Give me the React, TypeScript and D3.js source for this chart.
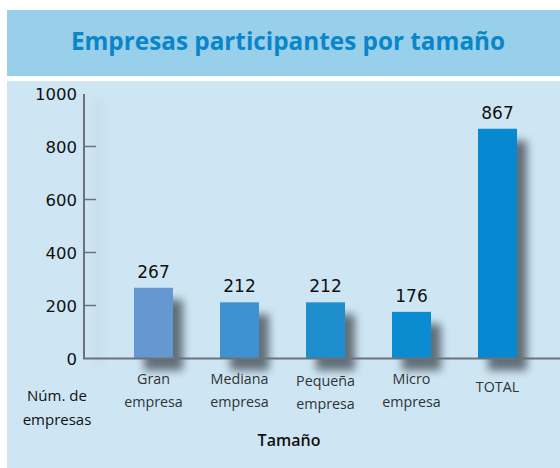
import React from "react";
import * as d3 from "d3";

const categories = ["Gran empresa", "Mediana empresa", "Pequeña empresa", "Micro empresa", "TOTAL"];
const values = [267, 212, 212, 176, 867];
const yTicks = [0, 200, 400, 600, 800, 1000];
const title = "Empresas participantes por tamaño";
const yTitle = ["Núm. de", "empresas"];
const xTitle = "Tamaño";

const barColors = ["#6598d0", "#3f92d2", "#1f8ecf", "#0b8bd0", "#0689d1"];
const W = 560;
const H = 468;
const FONT = "'Open Sans', 'Noto Sans', sans-serif";
const NUMFONT = "'DejaVu Sans', sans-serif";

export default function App() {
  const y = d3.scaleLinear().domain([0, 1000]).range([358.5, 93.5]);
  const x = d3.scalePoint<string>().domain(categories).range([153.5, 497.5]);
  const bw = 39;
  const axisX = 84;
  const axisColor = "#6b7278";
  const labelDy = [0, 0, 2, 0, 0];

  return (
    <svg width={W} height={H} style={{ position: "absolute", left: 0, top: 0, display: "block" }}>
      <defs>
        <filter id="sh" x="-50%" y="-50%" width="200%" height="200%">
          <feGaussianBlur stdDeviation="4.5" />
        </filter>
        <filter id="sh2" x="-200%" y="-10%" width="500%" height="120%">
          <feGaussianBlur stdDeviation="5" />
        </filter>
      </defs>
      <rect x={0} y={0} width={W} height={H} fill="#ffffff" />
      <rect x={7} y={10} width={W - 7} height={66} fill="#98cfeb" />
      <text x={288} y={50} textAnchor="middle" fontFamily={FONT} fontWeight={700} fontSize={24.3} fill="#0a86c8">
        {title}
      </text>
      <rect x={7} y={81} width={W - 7} height={H - 81} fill="#cee6f4" />

      {/* faint axis shadow */}
      <rect x={axisX + 12} y={100} width={4} height={265} fill="#8a9aa6" opacity={0.25} filter="url(#sh2)" />

      {/* bar shadows */}
      {categories.map((c, i) => (
        <rect
          key={"s" + c}
          x={(x(c) as number) - bw / 2 + 10}
          y={y(values[i]) + 12}
          width={bw}
          height={y(0) - y(values[i])}
          fill="#4f5a64"
          opacity={0.85}
          filter="url(#sh)"
        />
      ))}

      {/* bars */}
      {categories.map((c, i) => (
        <rect
          key={"b" + c}
          x={(x(c) as number) - bw / 2}
          y={y(values[i])}
          width={bw}
          height={y(0) - y(values[i])}
          fill={barColors[i]}
        />
      ))}

      {/* axes */}
      <line x1={axisX} x2={axisX} y1={94} y2={359} stroke={axisColor} strokeWidth={2} />
      <line x1={axisX - 1} x2={W} y1={358.5} y2={358.5} stroke={axisColor} strokeWidth={2} />
      {yTicks.map((t) => (
        <g key={"t" + t}>
          {t > 0 && t < 1000 && (
            <line x1={axisX} x2={axisX + 12} y1={y(t)} y2={y(t)} stroke={axisColor} strokeWidth={1.5} />
          )}
          <text x={77} y={y(t) + 6} textAnchor="end" fontFamily={NUMFONT} fontSize={16.5} fill="#111">
            {t}
          </text>
        </g>
      ))}

      {/* value labels */}
      {categories.map((c, i) => (
        <text
          key={"v" + c}
          x={x(c) as number}
          y={y(values[i]) - 10}
          textAnchor="middle"
          fontFamily={NUMFONT}
          fontSize={17}
          fill="#111"
        >
          {values[i]}
        </text>
      ))}

      {/* category labels */}
      {categories.map((c, i) => {
        const lines = c.split(" ");
        const cx = x(c) as number;
        if (lines.length === 1) {
          return (
            <text key={"c" + c} x={cx} y={392} textAnchor="middle" fontFamily={FONT} fontSize={14.3} fill="#333">
              {c}
            </text>
          );
        }
        return (
          <text key={"c" + c} x={cx} y={384 + labelDy[i]} textAnchor="middle" fontFamily={FONT} fontSize={14.3} fill="#333">
            {lines.map((l, k) => (
              <tspan key={k} x={cx} dy={k === 0 ? 0 : 23}>
                {l}
              </tspan>
            ))}
          </text>
        );
      })}

      <text x={57} y={401} textAnchor="middle" fontFamily={FONT} fontSize={15} fontWeight={500} fill="#111">
        <tspan x={57}>{yTitle[0]}</tspan>
        <tspan x={57} dy={24}>{yTitle[1]}</tspan>
      </text>
      <text x={289} y={446} textAnchor="middle" fontFamily={FONT} fontSize={16} fontWeight={600} fill="#111">
        {xTitle}
      </text>
    </svg>
  );
}
